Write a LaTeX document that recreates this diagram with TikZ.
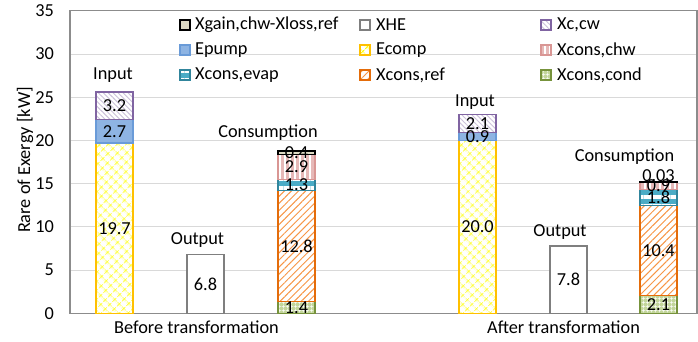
\documentclass[tikz,border=0pt]{standalone}
\usepackage{fontspec}
\setmainfont{Carlito}
\usetikzlibrary{patterns.meta}
\definecolor{gridc}{HTML}{D9D9D9}
\definecolor{framec}{HTML}{8C8C8C}
\definecolor{ecompline}{HTML}{FFFF00}
\definecolor{ecompedge}{HTML}{FFC000}
\definecolor{epumpfill}{HTML}{8EB4E3}
\definecolor{epumpedge}{HTML}{6A9BD8}
\definecolor{xcline}{HTML}{CCC1DA}
\definecolor{xcedge}{HTML}{8064A2}
\definecolor{xheedge}{HTML}{7F7F7F}
\definecolor{xgainfill}{HTML}{DDD9C3}
\definecolor{chwfill}{HTML}{E6B9B8}
\definecolor{chwedge}{HTML}{D99694}
\definecolor{evapfill}{HTML}{4BACC6}
\definecolor{evapedge}{HTML}{31859C}
\definecolor{refline}{HTML}{F79646}
\definecolor{refedge}{HTML}{E46C0A}
\definecolor{condfill}{HTML}{C3D69B}
\definecolor{condedge}{HTML}{77933C}
\tikzset{
  segbase/.style={line width=1.3pt},
  ecomp/.style={segbase, preaction={fill=white}, pattern={Hatch[angle=45,distance=6.4pt,line width=0.8pt]}, pattern color=ecompline, draw=ecompedge},
  epump/.style={segbase, fill=epumpfill, draw=epumpedge},
  xccw/.style={segbase, preaction={fill=white}, pattern={Lines[angle=-45,distance=3.5pt,line width=0.9pt]}, pattern color=xcline, draw=xcedge},
  xhe/.style={segbase, fill=white, draw=xheedge},
  xgain/.style={segbase, fill=xgainfill, draw=black},
  chw/.style={segbase, preaction={fill=chwfill}, pattern={Lines[angle=90,distance=5pt,line width=1.5pt]}, pattern color=white, draw=chwedge},
  evap/.style={segbase, preaction={fill=evapfill}, pattern={Lines[angle=0,distance=9pt,line width=4pt]}, pattern color=white, draw=evapedge},
  cref/.style={segbase, preaction={fill=white}, pattern={Lines[angle=45,distance=5pt,line width=1pt]}, pattern color=refline, draw=refedge},
  cond/.style={segbase, preaction={fill=condfill}, pattern={Hatch[angle=0,distance=4pt,line width=0.7pt]}, pattern color=white, draw=condedge},
  txt/.style={inner sep=0pt, font=\fontsize{18.3}{22}\selectfont},
  dl/.style={txt},
}
\newcommand{\barseg}[4]{\path[#1] (#2,{27.7+8.64*(#3)}) rectangle ({#2+37},{27.7+8.64*(#4)});}
\newcommand{\legmark}[3]{\path[#1] (#2,{#3-5}) rectangle ({#2+10},{#3+5});}
\begin{document}
\begin{tikzpicture}[x=1pt,y=1pt]
\useasboundingbox (0,0) rectangle (698,341);
% gridlines
\foreach \v in {5,10,15,20,25,30} {
  \draw[gridc, line width=1pt] (70,{27.7+8.64*\v}) -- (697,{27.7+8.64*\v});
}
\draw[framec, line width=1.2pt] (70,27.7) rectangle (697,{27.7+8.64*35});
% tick labels
\foreach \v in {0,5,...,35} {
  \node[txt, anchor=east] (tick\v) at (54,{27.7+8.64*\v}) {\v};
}
\node[txt, rotate=90] (ytitle) at (25,181) {Rare of Exergy [kW]};
% legend
\legmark{xgain}{180}{316}
\node[txt, anchor=west] (lg1) at (195,316) {Xgain,chw-Xloss,ref};
\legmark{xhe}{360}{316}
\node[txt, anchor=west] (lg2) at (376,316) {XHE};
\legmark{xccw}{541}{316}
\node[txt, anchor=west] (lg3) at (557,316) {Xc,cw};
\legmark{epump}{180}{291}
\node[txt, anchor=west] (lg4) at (195,291) {Epump};
\legmark{ecomp}{360}{291}
\node[txt, anchor=west] (lg5) at (376,291) {Ecomp};
\legmark{chw}{541}{291}
\node[txt, anchor=west] (lg6) at (557,291) {Xcons,chw};
\legmark{evap}{180}{266}
\node[txt, anchor=west] (lg7) at (195,266) {Xcons,evap};
\legmark{cref}{360}{266}
\node[txt, anchor=west] (lg8) at (376,266) {Xcons,ref};
\legmark{cond}{541}{266}
\node[txt, anchor=west] (lg9) at (557,266) {Xcons,cond};
% before transformation bars
\barseg{ecomp}{96}{0}{19.7}
\barseg{epump}{96}{19.7}{22.4}
\barseg{xccw}{96}{22.4}{25.6}
\barseg{xhe}{187}{0}{6.8}
\barseg{cond}{278}{0}{1.4}
\barseg{cref}{278}{1.4}{14.2}
\barseg{evap}{278}{14.2}{15.5}
\barseg{chw}{278}{15.5}{18.4}
\barseg{xgain}{278}{18.4}{18.8}
% after transformation bars
\barseg{ecomp}{459}{0}{20.0}
\barseg{epump}{459}{20.0}{20.9}
\barseg{xccw}{459}{20.9}{23.0}
\barseg{xhe}{550}{0}{7.8}
\barseg{cond}{640}{0}{2.1}
\barseg{cref}{640}{2.1}{12.5}
\barseg{evap}{640}{12.5}{14.3}
\barseg{chw}{640}{14.3}{15.2}
\barseg{xgain}{640}{15.2}{15.23}
% data labels before
\node[dl] (d1) at (114.5,{27.7+8.64*9.85}) {19.7};
\node[dl] (d2) at (114.5,{27.7+8.64*21.05}) {2.7};
\node[dl] (d3) at (114.5,{27.7+8.64*24.0}) {3.2};
\node[dl] (d4) at (205.5,{27.7+8.64*3.4}) {6.8};
\node[dl] (d5) at (296.5,{27.7+8.64*0.7}) {1.4};
\node[dl] (d6) at (296.5,{27.7+8.64*7.8}) {12.8};
\node[dl] (d7) at (296.5,{27.7+8.64*14.85}) {1.3};
\node[dl] (d8) at (296.5,{27.7+8.64*16.95}) {2.9};
\node[dl] (d9) at (296.5,{27.7+8.64*18.6}) {0.4};
% data labels after
\node[dl] (e1) at (477.5,{27.7+8.64*10}) {20.0};
\node[dl] (e2) at (477.5,{27.7+8.64*20.45}) {0.9};
\node[dl] (e3) at (477.5,{27.7+8.64*21.95}) {2.1};
\node[dl] (e4) at (568.5,{27.7+8.64*3.9}) {7.8};
\node[dl] (e5) at (658.5,{27.7+8.64*1.05}) {2.1};
\node[dl] (e6) at (658.5,{27.7+8.64*7.3}) {10.4};
\node[dl] (e7) at (658.5,{27.7+8.64*13.4}) {1.8};
\node[dl] (e8) at (658.5,{27.7+8.64*14.75}) {0.9};
\node[dl] (e9) at (658.5,{27.7+8.64*15.9}) {0.03};
% group labels
\node[txt] (in1) at (113,266) {Input};
\node[txt] (out1) at (197.5,101) {Output};
\node[txt] (con1) at (268,208) {Consumption};
\node[txt] (in2) at (475,239) {Input};
\node[txt] (out2) at (560,109) {Output};
\node[txt] (con2) at (624.5,184) {Consumption};
% category labels
\node[txt] (cat1) at (196.5,14) {Before transformation};
\node[txt] (cat2) at (563.5,14) {After transformation};
\end{tikzpicture}
\end{document}
